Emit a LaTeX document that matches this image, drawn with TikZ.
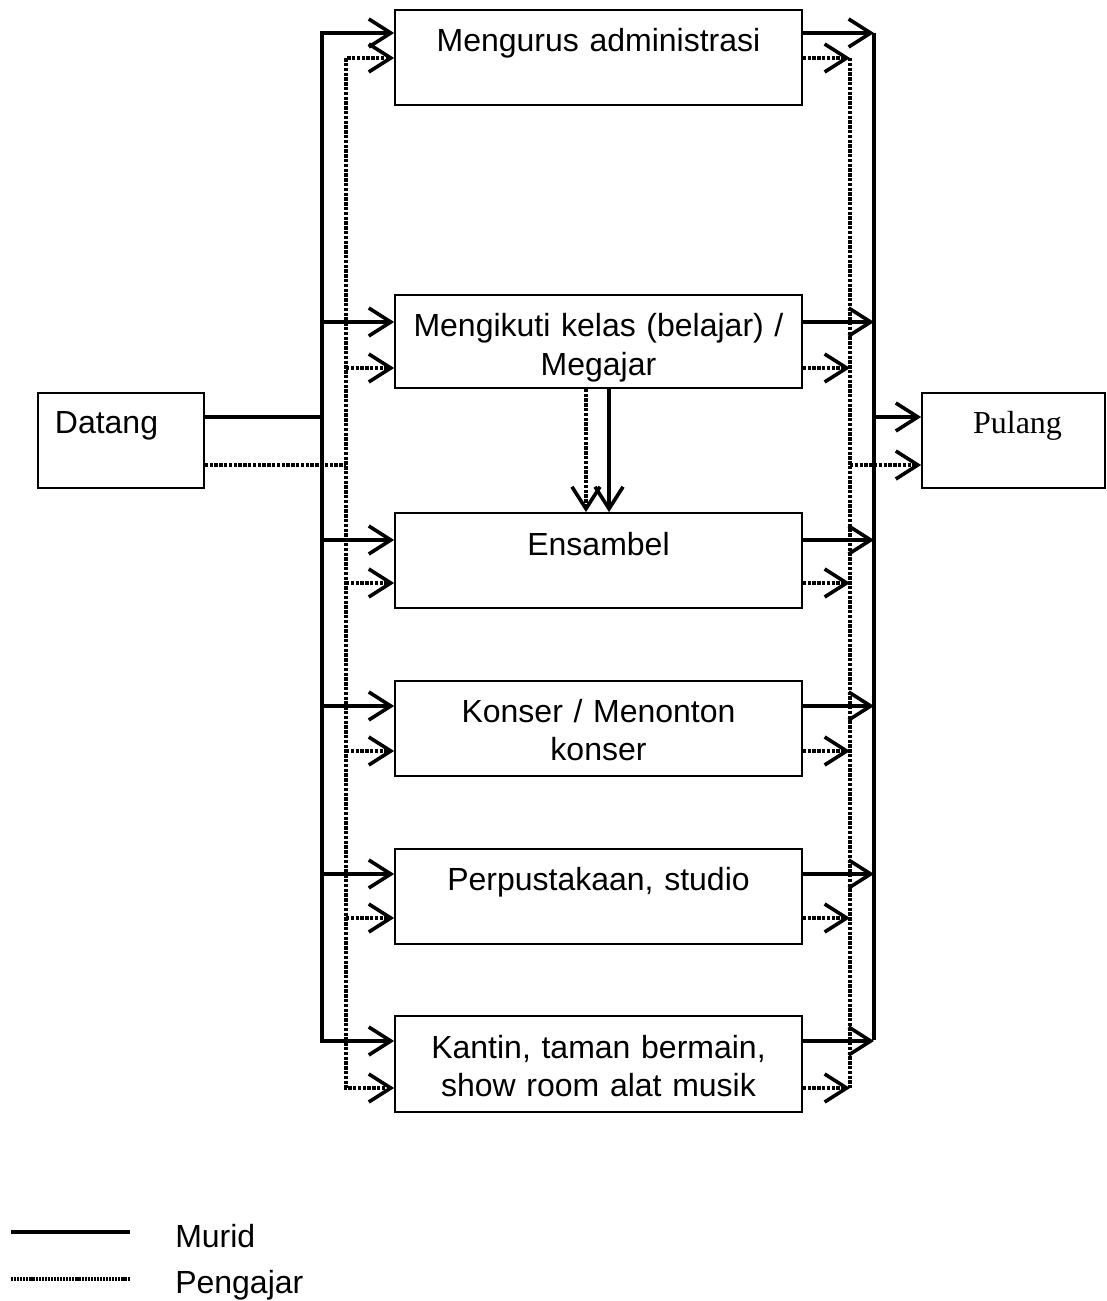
\documentclass[tikz,border=0pt]{standalone}
\usepackage{fontspec}
\setmainfont{Liberation Sans}
\newfontfamily\serifpl{Liberation Serif}
\usetikzlibrary{arrows.meta}
\begin{document}
\begin{tikzpicture}[x=0.75pt,y=-0.75pt,
  box/.style={draw, line width=1.3pt, inner sep=0pt, minimum width=305.25pt, minimum height=71.25pt},
  lbl/.style={anchor=base, inner sep=0pt, font=\fontsize{24}{28.5}\selectfont, align=center, text width=300pt},
  murid/.style={line width=2.7pt},
  pengajar/.style={line width=2.7pt, dash pattern=on 2.5pt off 1.1pt},
  tip/.tip={Straight Barb[length=16.5pt,width=21pt]},
  arr/.style={-tip},
  arr2/.style={tip-tip}]
\useasboundingbox (0,0) rectangle (1106,1301);

% boxes
\node[box] (adm) at (598.5,57.5) {};
\node[box, minimum height=69.75pt] (kel) at (598.5,341.5) {};
\node[box] (ens) at (598.5,560.5) {};
\node[box] (kon) at (598.5,728.5) {};
\node[box] (per) at (598.5,896.5) {};
\node[box, minimum height=72pt] (kan) at (598.5,1064) {};
\node[box, minimum width=124.5pt] (dat) at (121,440.5) {};
\node[box, minimum width=137.25pt] (pul) at (1013.5,440.5) {};

% texts
\node[lbl] (adm-t) at (598.5,52) {Mengurus administrasi};
\node[lbl] (kel-t) at (598.5,337) {Mengikuti kelas (belajar) /\\Megajar};
\node[lbl] (ens-t) at (598.5,555) {Ensambel};
\node[lbl] (kon-t) at (598.5,722) {Konser / Menonton\\konser};
\node[lbl] (per-t) at (598.5,890) {Perpustakaan, studio};
\node[lbl] (kan-t) at (598.5,1058) {Kantin, taman bermain,\\show room alat musik};
\node[lbl, text width=120pt] (dat-t) at (106.5,433) {Datang};
\node[lbl, text width=130pt, font=\fontsize{24}{28.5}\serifpl] (pul-t) at (1017.5,433) {Pulang};

% bus coordinates
\coordinate (LS) at (322,0);
\coordinate (LD) at (346,0);
\coordinate (RS) at (874,0);
\coordinate (RD) at (850,0);

% left buses with end arrows
\draw[murid,arr2,line join=miter] (adm.west |- 0,33) -- (LS |- 0,33) -- (LS |- 0,1041) -- (kan.west |- 0,1041);
\draw[pengajar,arr2,line join=miter] (adm.west |- 0,58) -- (LD |- 0,58) -- (LD |- 0,1088) -- (kan.west |- 0,1088);

% left branch arrows
\foreach \b/\s/\d in {kel/322/368, ens/540/583, kon/706/751, per/874/918}{
  \draw[murid,arr] (LS |- 0,\s) -- (\b.west |- 0,\s);
  \draw[pengajar,arr] (LD |- 0,\d) -- (\b.west |- 0,\d);
}

% right buses
\draw[murid] (RS |- 0,33) -- (RS |- 0,1040);
\draw[pengajar] (RD |- 0,58) -- (RD |- 0,1088);
\foreach \b/\s/\d in {adm/33/58, kel/322/368, ens/540/583, kon/706/751, per/874/918, kan/1041/1088}{
  \draw[murid,arr] (\b.east |- 0,\s) -- (RS |- 0,\s);
  \draw[pengajar,arr] (\b.east |- 0,\d) -- (RD |- 0,\d);
}

% Datang
\draw[murid] (dat.east |- 0,417) -- (LS |- 0,417);
\draw[pengajar] (dat.east |- 0,465) -- (LD |- 0,465);

% Pulang
\draw[murid,arr] (RS |- 0,417) -- (pul.west |- 0,417);
\draw[pengajar,arr] (RD |- 0,465) -- (pul.west |- 0,465);

% middle verticals
\draw[pengajar,arr] ([xshift=-9.4pt]kel.south) -- ([xshift=-9.4pt]ens.north);
\draw[murid,arr] ([xshift=7.9pt]kel.south) -- ([xshift=7.9pt]ens.north);

% legend
\coordinate (l1a) at (11,1232);
\coordinate (l1b) at (130,1232);
\coordinate (l2a) at (11,1279);
\coordinate (l2b) at (130,1279);
\draw[murid] (l1a) -- (l1b);
\draw[line width=2.5pt, dash pattern=on 1.6pt off 0.7pt] (l2a) -- (l2b);
\node[anchor=base west, inner sep=0pt, font=\fontsize{24}{28.5}\selectfont] (leg1) at (175,1247) {Murid};
\node[anchor=base west, inner sep=0pt, font=\fontsize{24}{28.5}\selectfont] (leg2) at (175,1293) {Pengajar};
\end{tikzpicture}
\end{document}
